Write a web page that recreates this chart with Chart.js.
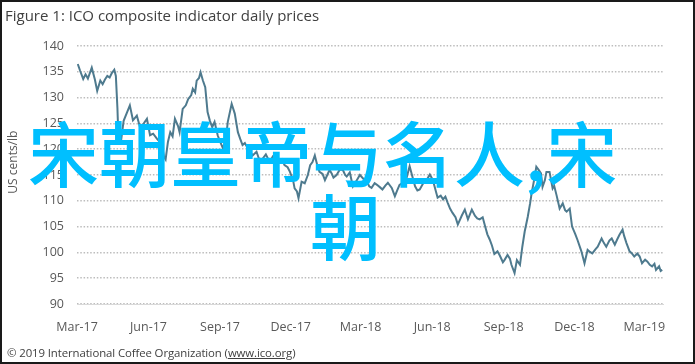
<!DOCTYPE html>
<html>
<head>
<meta charset="utf-8">
<script src="https://cdn.jsdelivr.net/npm/chart.js@4.4.1/dist/chart.umd.min.js"></script>
<style>
  html, body { margin: 0; padding: 0; background: #fff; }
  #wrap { position: relative; width: 695px; height: 364px; overflow: hidden; }
  #frame { position: absolute; left: 0; top: 0; width: 695px; height: 364px; box-sizing: border-box; border: 2px solid #1a1a1a; pointer-events: none; }
  #title { position: absolute; left: 5px; top: 5px; font: 15px 'Open Sans', sans-serif; color: #404040; white-space: nowrap; }
  #footer { position: absolute; left: 7px; top: 345px; font: 11.4px 'Open Sans', sans-serif; color: #404040; white-space: nowrap; letter-spacing: -0.1px; }
  #footer u { text-decoration: underline; }
  .mark { position: absolute; font-family: 'Noto Sans CJK SC', sans-serif; font-weight: 500; font-size: 71px; line-height: 71px; color: #00bfff; white-space: nowrap; }
  #mark1 { left: 28px; top: 115px; }
  #mark2 { left: 310px; top: 188px; }
  canvas { position: absolute; left: 0; top: 0; }
</style>
</head>
<body>
<div id="wrap">
  <canvas id="chart" width="695" height="364"></canvas>
  <div id="title">Figure 1: ICO composite indicator daily prices</div>
  <div id="footer">© 2019 International Coffee Organization (<u>www.ico.org</u>)</div>
  <div class="mark" id="mark1">宋朝皇帝与名人,宋</div>
  <div class="mark" id="mark2">朝</div>
  <div id="frame"></div>
</div>
<script>
// day offsets from 1 Mar 2017 where the month labels sit
const tickDays = [0, 92, 184, 275, 365, 457, 549, 640, 730];
const tickLabels = ['Mar-17', 'Jun-17', 'Sep-17', 'Dec-17', 'Mar-18', 'Jun-18', 'Sep-18', 'Dec-18', 'Mar-19'];

// ICO composite indicator, US cents/lb
const priceDays = [
  1, 4, 8, 11, 14, 19, 23, 26, 30, 33, 36, 39, 42, 45, 48, 50, 52, 53, 57, 60,
  64, 68, 72, 77, 81, 86, 90, 94, 98, 103, 109, 112, 114, 117, 120, 123, 126, 130, 132, 136,
  140, 143, 147, 149, 152, 154, 157, 159, 162, 165, 168, 171, 174, 177, 181, 184, 188, 192, 194, 199,
  203, 207, 210, 213, 216, 220, 226, 231, 234, 238, 243, 248, 252, 255, 258, 261, 264, 267, 271, 274,
  278, 280, 283, 285, 289, 293, 297, 300, 303, 306, 309, 312, 316, 319, 322, 325, 328, 330, 334, 338,
  342, 345, 347, 351, 355, 360, 364, 369, 373, 376, 379, 383, 386, 390, 393, 397, 400, 405, 409, 412,
  415, 420, 424, 428, 431, 435, 438, 441, 444, 447, 451, 454, 458, 460, 464, 468, 471, 474, 477, 480,
  483, 487, 490, 495, 499, 503, 508, 512, 515, 518, 522, 525, 528, 531, 534, 537, 541, 544, 548, 550,
  554, 557, 559, 563, 566, 570, 573, 576, 580, 583, 585, 589, 591, 594, 597, 599, 602, 604, 608, 612,
  614, 617, 621, 625, 628, 630, 634, 637, 641, 644, 649, 653, 657, 660, 663, 667, 670, 675, 678, 681,
  685, 688, 692, 695, 698, 702, 704, 707, 711, 714, 717, 721, 724, 727, 731, 734, 737, 740, 743, 745,
  749, 751, 753
];
const priceValues = [
  136.5, 135.2, 133.6, 134.5, 133.7, 135.8, 133.5, 131.3, 133.3, 132.6, 133.5, 134.2, 133.9, 134.8, 135.4, 134.2, 128, 123.5, 122, 125.5,
  127, 128.5, 125.6, 126.5, 124.3, 125, 125.9, 122.7, 123, 122, 121, 118.5, 118, 121.4, 123.3, 122.5, 125.9, 124.5, 123.3, 127.8,
  128.5, 129.7, 130.5, 131.7, 131, 133.3, 133.8, 134.9, 133.3, 132, 127.2, 125.5, 124.3, 125.3, 122.7, 121.5, 120.1, 122.5, 125.3, 128.8,
  126.9, 123.3, 122, 120.8, 121.2, 120.1, 118.8, 119.5, 118.2, 118, 119, 117.5, 118.6, 118.3, 117.2, 117.5, 118, 116.9, 116.5, 115.6,
  114, 112.4, 111.8, 110.5, 113.7, 113.4, 115, 116.9, 117.5, 118.8, 117, 115.6, 115.2, 114, 115, 116, 115.2, 114.5, 115, 116,
  116, 115, 114.7, 115.5, 112.8, 114, 115, 114.2, 113.8, 112.8, 112.5, 113.4, 113.1, 112.6, 112.2, 113, 113.5, 112.5, 110.9, 112,
  113.1, 113.6, 114.4, 116.7, 115, 112.8, 112, 112.2, 113, 113.8, 114.3, 115.1, 114, 112.8, 110.6, 111, 110.3, 110.8, 109.6, 108.5,
  107.7, 106.8, 105.4, 107.1, 108.3, 106.4, 108.3, 107.1, 106.6, 106.4, 106.8, 105.1, 103.5, 102.5, 101.3, 99.7, 100.2, 99.4, 98.1, 98.5,
  99.5, 98.8, 97.6, 96, 98.5, 97.6, 101.1, 104, 106.9, 109.5, 111.5, 114.7, 116.6, 116, 115.3, 112.7, 114, 115.6, 115.6, 112.4,
  112.9, 111.1, 108.5, 109.5, 108.2, 107.9, 108.5, 105, 103.6, 102.4, 100.2, 97.9, 100.5, 100.1, 99.8, 100.6, 101.1, 102.7, 101.8, 101.1,
  102.3, 102.7, 101.5, 102.5, 103.4, 104.4, 103.2, 101.8, 100.2, 99.8, 99.2, 99.8, 99.2, 97.9, 98.6, 98.2, 97.6, 97.3, 97.8, 96.6,
  97.3, 96.4, 96.6
];

const yTicks = [90, 95, 100, 105, 110, 115, 120, 125, 130, 135, 140];
const yTitle = 'US cents/lb';
const tickFont = { family: "'Open Sans', sans-serif", size: 12.5 };

// the y title sits a bit above the middle of the plot in the original
const yTitlePlugin = {
  id: 'yTitle',
  afterDraw(chart) {
    const { ctx, chartArea } = chart;
    ctx.save();
    ctx.translate(14, chartArea.top + (chartArea.bottom - chartArea.top) * 0.45);
    ctx.rotate(-Math.PI / 2);
    ctx.font = "12px 'Open Sans', sans-serif";
    ctx.fillStyle = '#595959';
    ctx.textAlign = 'center';
    ctx.textBaseline = 'middle';
    ctx.fillText(yTitle, 0, 0);
    ctx.restore();
  },
};

const chartCtx = document.getElementById('chart').getContext('2d');
new Chart(chartCtx, {
  type: 'line',
  data: {
    datasets: [{
      data: priceDays.map((d, i) => ({ x: d, y: priceValues[i] })),
      borderColor: '#4e7a8e',
      borderWidth: 2,
      pointRadius: 0,
      tension: 0,
      fill: false,
    }],
  },
  options: {
    responsive: false,
    animation: false,
    layout: { padding: { left: 5, right: 32, top: 46, bottom: 30 } },
    plugins: {
      legend: { display: false },
      tooltip: { enabled: false },
    },
    scales: {
      x: {
        type: 'linear',
        min: 0,
        max: 754,
        afterBuildTicks: (scale) => { scale.ticks = tickDays.map((v) => ({ value: v })); },
        afterFit: (scale) => { scale.height = 30; },
        grid: { display: false },
        border: { display: true, color: '#d9d9d9', width: 1 },
        ticks: {
          autoSkip: false,
          maxRotation: 0,
          padding: 8,
          color: '#595959',
          font: tickFont,
          callback: (value) => tickLabels[tickDays.indexOf(value)],
        },
      },
      y: {
        min: 90,
        max: 140,
        afterBuildTicks: (scale) => { scale.ticks = yTicks.map((v) => ({ value: v })); },
        afterFit: (scale) => { scale.width = 72; },
        grid: { color: '#bdbdbd', lineWidth: 1.5, drawTicks: false },
        border: { display: false, dash: [1.5, 1.8] },
        ticks: { padding: 13, color: '#595959', font: tickFont },
      },
    },
  },
  plugins: [yTitlePlugin],
});
</script>
</body>
</html>
